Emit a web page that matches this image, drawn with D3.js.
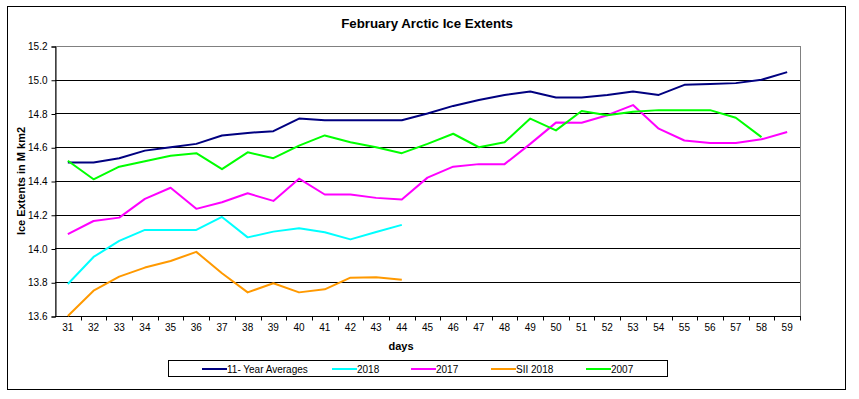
<!DOCTYPE html>
<html>
<head>
<meta charset="utf-8">
<script src="https://cdn.jsdelivr.net/npm/d3@7"></script>
<style>
  body { margin: 0; background: #fff; }
  svg text { font-family: "Liberation Sans", Arial, sans-serif; fill: #000; }
</style>
</head>
<body>
<svg id="chart" width="859" height="399"></svg>
<script>
// days on the x axis
var days = d3.range(31, 60);

// series values (M km2)
var avg11 = [14.51, 14.51, 14.535, 14.58, 14.60, 14.62, 14.67, 14.685, 14.695, 14.77,
  14.76, 14.76, 14.76, 14.76, 14.80, 14.845, 14.88, 14.91, 14.93, 14.895,
  14.895, 14.91, 14.93, 14.91, 14.97, 14.975, 14.98, 15.0, 15.045];
var y2018 = [13.79, 13.95, 14.045, 14.11, 14.11, 14.11, 14.187, 14.066, 14.10, 14.12,
  14.096, 14.054, 14.098, 14.14];
var y2017 = [14.085, 14.163, 14.183, 14.294, 14.36, 14.235, 14.274, 14.327, 14.282, 14.414,
  14.32, 14.32, 14.30, 14.29, 14.42, 14.485, 14.50, 14.50, 14.62, 14.746,
  14.745, 14.79, 14.85, 14.71, 14.64, 14.625, 14.625, 14.647, 14.69];
var sii2018 = [13.60, 13.75, 13.833, 13.887, 13.926, 13.98, 13.853, 13.74, 13.794, 13.74,
  13.758, 13.827, 13.829, 13.815];
var y2007 = [14.52, 14.41, 14.485, 14.517, 14.55, 14.565, 14.47, 14.57, 14.535, 14.61,
  14.67, 14.63, 14.60, 14.565, 14.62, 14.68, 14.60, 14.63, 14.77, 14.70,
  14.815, 14.79, 14.81, 14.82, 14.82, 14.82, 14.775, 14.66];

var yTicks = [13.6, 13.8, 14.0, 14.2, 14.4, 14.6, 14.8, 15.0, 15.2];

var series = [
  { name: '11- Year Averages', values: avg11, color: '#000080' },
  { name: '2018', values: y2018, color: '#00FFFF' },
  { name: '2017', values: y2017, color: '#FF00FF' },
  { name: 'SII 2018', values: sii2018, color: '#FF9900' },
  { name: '2007', values: y2007, color: '#00FF00' }
];
var legendX = [202, 332, 411, 491, 586];

var svg = d3.select('#chart');
var plot = { left: 55, right: 800, top: 46, bottom: 316 };

var x = d3.scaleBand().domain(days).range([plot.left, plot.right]);
var y = d3.scaleLinear().domain([13.6, 15.2]).range([plot.bottom, plot.top]);

// outer frame
svg.append('rect')
  .attr('x', 7.5).attr('y', 6.5).attr('width', 838).attr('height', 383)
  .attr('fill', '#fff').attr('stroke', '#000').attr('stroke-width', 1);

// title
svg.append('text')
  .attr('x', 427).attr('y', 28)
  .attr('text-anchor', 'middle')
  .style('font-size', '13.3px').style('font-weight', 'bold')
  .text('February Arctic Ice Extents');

// plot area border (gray)
svg.append('rect')
  .attr('x', plot.left + 0.5).attr('y', plot.top + 0.5)
  .attr('width', plot.right - plot.left).attr('height', plot.bottom - plot.top)
  .attr('fill', '#fff').attr('stroke', '#808080').attr('stroke-width', 1);

// gridlines
svg.append('g')
  .selectAll('line')
  .data(yTicks.slice(1, -1))
  .join('line')
  .attr('x1', plot.left).attr('x2', plot.right)
  .attr('y1', function (d) { return Math.round(y(d)) + 0.5; })
  .attr('y2', function (d) { return Math.round(y(d)) + 0.5; })
  .attr('stroke', '#000').attr('stroke-width', 1);

// y axis
var yAxis = svg.append('g')
  .attr('transform', 'translate(' + (plot.left + 0.5) + ',0.5)')
  .call(d3.axisLeft(y).tickValues(yTicks).tickFormat(d3.format('.1f')).tickSize(4).tickPadding(4));
yAxis.select('.domain').attr('stroke', '#000');
yAxis.selectAll('.tick line').attr('stroke', '#000');
yAxis.selectAll('text').style('font-size', '10px').attr('fill', '#000').style('font-family', '"Liberation Sans", Arial, sans-serif');

// x axis: ticks sit between the categories
var xAxis = svg.append('g')
  .attr('transform', 'translate(0,' + (plot.bottom + 0.5) + ')');
xAxis.append('line')
  .attr('x1', plot.left).attr('x2', plot.right + 1)
  .attr('stroke', '#000');
xAxis.selectAll('.sep')
  .data(days)
  .join('line')
  .attr('class', 'sep')
  .attr('x1', function (d) { return Math.round(x(d) + x.bandwidth()) + 0.5; })
  .attr('x2', function (d) { return Math.round(x(d) + x.bandwidth()) + 0.5; })
  .attr('y1', 0).attr('y2', 4)
  .attr('stroke', '#000');
xAxis.selectAll('.lbl')
  .data(days)
  .join('text')
  .attr('class', 'lbl')
  .attr('x', function (d) { return x(d) + x.bandwidth() / 2; })
  .attr('y', 14)
  .attr('text-anchor', 'middle')
  .style('font-size', '10px')
  .text(function (d) { return d; });

// axis titles
svg.append('text')
  .attr('x', 401).attr('y', 350)
  .attr('text-anchor', 'middle')
  .style('font-size', '11px').style('font-weight', 'bold')
  .text('days');
svg.append('text')
  .attr('transform', 'translate(25,181) rotate(-90)')
  .attr('text-anchor', 'middle')
  .style('font-size', '11px').style('font-weight', 'bold')
  .text('Ice Extents in M km2');

// series lines
var line = d3.line()
  .x(function (d, i) { return x(days[i]) + x.bandwidth() / 2; })
  .y(function (d) { return y(d); });

svg.append('g')
  .selectAll('path')
  .data(series)
  .join('path')
  .attr('d', function (s) { return line(s.values); })
  .attr('fill', 'none')
  .attr('stroke', function (s) { return s.color; })
  .attr('stroke-width', 2)
  .attr('stroke-linejoin', 'round');

// legend
var legend = svg.append('g');
legend.append('rect')
  .attr('x', 168.5).attr('y', 360.5).attr('width', 499).attr('height', 16)
  .attr('fill', '#fff').attr('stroke', '#000');
var items = legend.selectAll('.item')
  .data(series)
  .join('g')
  .attr('class', 'item')
  .attr('transform', function (s, i) { return 'translate(' + legendX[i] + ',369)'; });
items.append('line')
  .attr('x1', 0).attr('x2', 25)
  .attr('stroke', function (s) { return s.color; })
  .attr('stroke-width', 2);
items.append('text')
  .attr('x', 25).attr('y', 3.5)
  .style('font-size', '10px')
  .text(function (s) { return s.name; });
</script>
</body>
</html>
